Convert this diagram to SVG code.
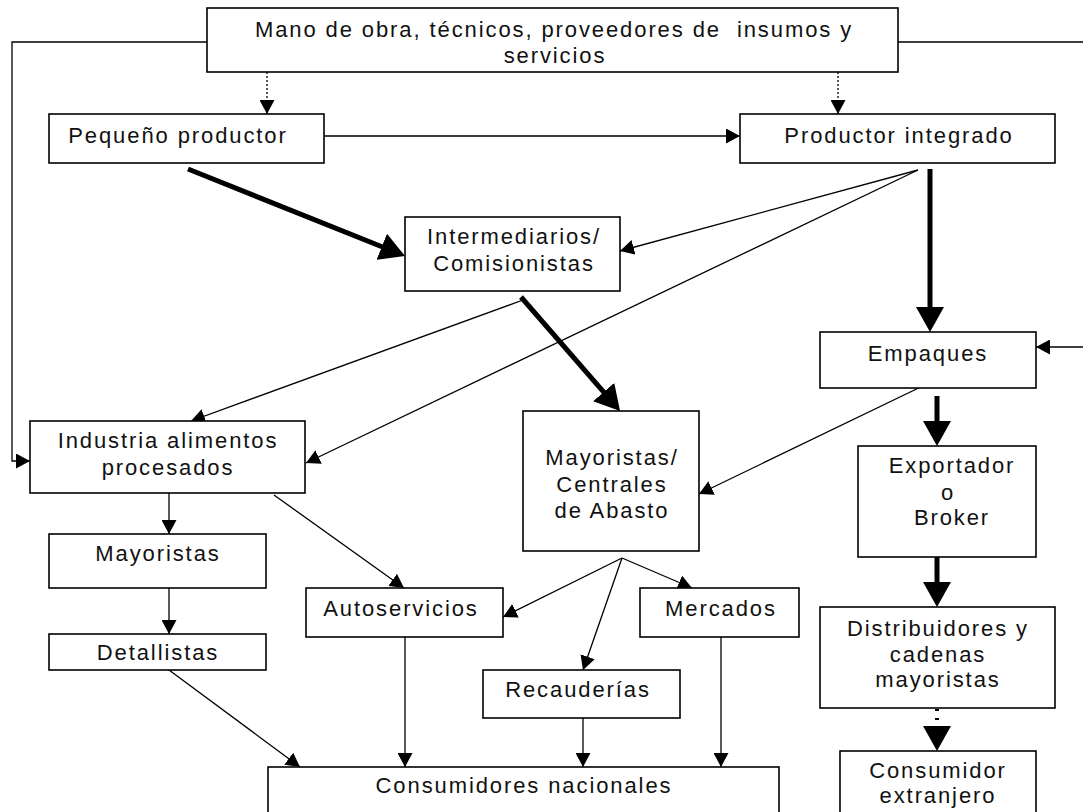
<svg xmlns="http://www.w3.org/2000/svg" width="1083" height="812" viewBox="0 0 1083 812">
<style>
.box{fill:#fff;stroke:#000;stroke-width:1.6}
.t{font-family:"Liberation Sans",Arial,sans-serif;font-size:22px;letter-spacing:1.9px;fill:#111;text-anchor:middle;white-space:pre}
.thin{fill:none;stroke:#000;stroke-width:1.3;marker-end:url(#ah)}
.dot{fill:none;stroke:#000;stroke-width:1.3;stroke-dasharray:2,2;marker-end:url(#ah)}
.thick{fill:none;stroke:#000;stroke-width:5;marker-end:url(#ahb)}
</style>
<defs>
<marker id="ah" viewBox="0 0 14 15" refX="14" refY="7.5" markerWidth="14" markerHeight="15" markerUnits="userSpaceOnUse" orient="auto">
<path d="M0,0 L14,7.5 L0,15 z" fill="#000"/>
</marker>
<marker id="ahb" viewBox="0 0 25 28" refX="15" refY="14" markerWidth="25" markerHeight="28" markerUnits="userSpaceOnUse" orient="auto">
<path d="M0,0 L25,14 L0,28 z" fill="#000"/>
</marker>
</defs>
<rect width="1083" height="812" fill="#fff"/>
<g id="connectors">
<polyline class="thin" points="207,42 12,42 12,461 30,461"/>
<polyline class="thin" points="898,42 1088,42 1088,347 1036,347"/>
<line class="dot" x1="267" y1="72" x2="267" y2="114"/>
<line class="dot" x1="838" y1="72" x2="838" y2="114"/>
<line class="thin" x1="324" y1="136" x2="740" y2="136"/>
<line class="thick" x1="188" y1="169" x2="395.7" y2="252.3"/>
<line class="thin" x1="918" y1="170" x2="620" y2="251"/>
<line class="thin" x1="918" y1="170" x2="306" y2="463"/>
<line class="thick" x1="930" y1="169" x2="930" y2="322"/>
<line class="thin" x1="523" y1="300" x2="191" y2="421"/>
<line class="thick" x1="521" y1="297" x2="613.5" y2="403.4"/>
<line class="thin" x1="931" y1="382" x2="699" y2="494"/>
<line class="thick" x1="937" y1="396" x2="937" y2="436"/>
<line class="thick" x1="937" y1="557" x2="937" y2="597"/>
<line fill="none" stroke="#000" stroke-width="4" stroke-dasharray="2,7" x1="937" y1="709" x2="937" y2="741" marker-end="url(#ahb)"/>
<line class="thin" x1="169" y1="493" x2="169" y2="534"/>
<line class="thin" x1="169" y1="588" x2="169" y2="634"/>
<line class="thin" x1="169" y1="670" x2="300" y2="767"/>
<line class="thin" x1="274" y1="495" x2="404" y2="588"/>
<line class="thin" x1="405" y1="637" x2="405" y2="767"/>
<line class="thin" x1="622" y1="558" x2="503" y2="617"/>
<line class="thin" x1="622" y1="558" x2="583" y2="670"/>
<line class="thin" x1="622" y1="558" x2="692" y2="588"/>
<line class="thin" x1="583" y1="718" x2="583" y2="767"/>
<line class="thin" x1="721" y1="637" x2="721" y2="767"/>
</g>
<g id="n-top">
<rect class="box" x="207" y="8" width="691" height="64"/>
<text class="t" x="554" y="37">Mano de obra, técnicos, proveedores de  insumos y</text>
<text class="t" x="555" y="63">servicios</text>
</g>
<g id="n-pequeno">
<rect class="box" x="49" y="114" width="275" height="49"/>
<text class="t" x="178" y="143">Pequeño productor</text>
</g>
<g id="n-integrado">
<rect class="box" x="740" y="114" width="315" height="49"/>
<text class="t" x="899" y="143">Productor integrado</text>
</g>
<g id="n-intermediarios">
<rect class="box" x="405" y="217" width="215" height="74"/>
<text class="t" x="514" y="244">Intermediarios/</text>
<text class="t" x="514" y="271">Comisionistas</text>
</g>
<g id="n-empaques">
<rect class="box" x="820" y="332" width="216" height="56"/>
<text class="t" x="928" y="361">Empaques</text>
</g>
<g id="n-industria">
<rect class="box" x="30" y="421" width="275" height="72"/>
<text class="t" x="168" y="448">Industria alimentos</text>
<text class="t" x="168" y="475">procesados</text>
</g>
<g id="n-centrales">
<rect class="box" x="523" y="411" width="176" height="140"/>
<text class="t" x="612" y="465">Mayoristas/</text>
<text class="t" x="612" y="492">Centrales</text>
<text class="t" x="612" y="518">de Abasto</text>
</g>
<g id="n-exportador">
<rect class="box" x="858" y="446" width="178" height="111"/>
<text class="t" x="952" y="473">Exportador</text>
<text class="t" x="948" y="500">o</text>
<text class="t" x="952" y="525">Broker</text>
</g>
<g id="n-mayoristas">
<rect class="box" x="49" y="534" width="217" height="54"/>
<text class="t" x="158" y="561">Mayoristas</text>
</g>
<g id="n-detallistas">
<rect class="box" x="49" y="634" width="217" height="36"/>
<text class="t" x="158" y="660">Detallistas</text>
</g>
<g id="n-autoservicios">
<rect class="box" x="306" y="588" width="197" height="49"/>
<text class="t" x="401" y="616">Autoservicios</text>
</g>
<g id="n-mercados">
<rect class="box" x="640" y="588" width="159" height="49"/>
<text class="t" x="721" y="616">Mercados</text>
</g>
<g id="n-recauderias">
<rect class="box" x="483" y="670" width="197" height="48"/>
<text class="t" x="578" y="697">Recauderías</text>
</g>
<g id="n-distribuidores">
<rect class="box" x="820" y="607" width="235" height="101"/>
<text class="t" x="938" y="636">Distribuidores y</text>
<text class="t" x="938" y="662">cadenas</text>
<text class="t" x="938" y="687">mayoristas</text>
</g>
<g id="n-nacionales">
<rect class="box" x="268" y="767" width="511" height="60"/>
<text class="t" x="524" y="793">Consumidores nacionales</text>
</g>
<g id="n-extranjero">
<rect class="box" x="840" y="751" width="196" height="70"/>
<text class="t" x="938" y="778">Consumidor</text>
<text class="t" x="938" y="803">extranjero</text>
</g>
</svg>
